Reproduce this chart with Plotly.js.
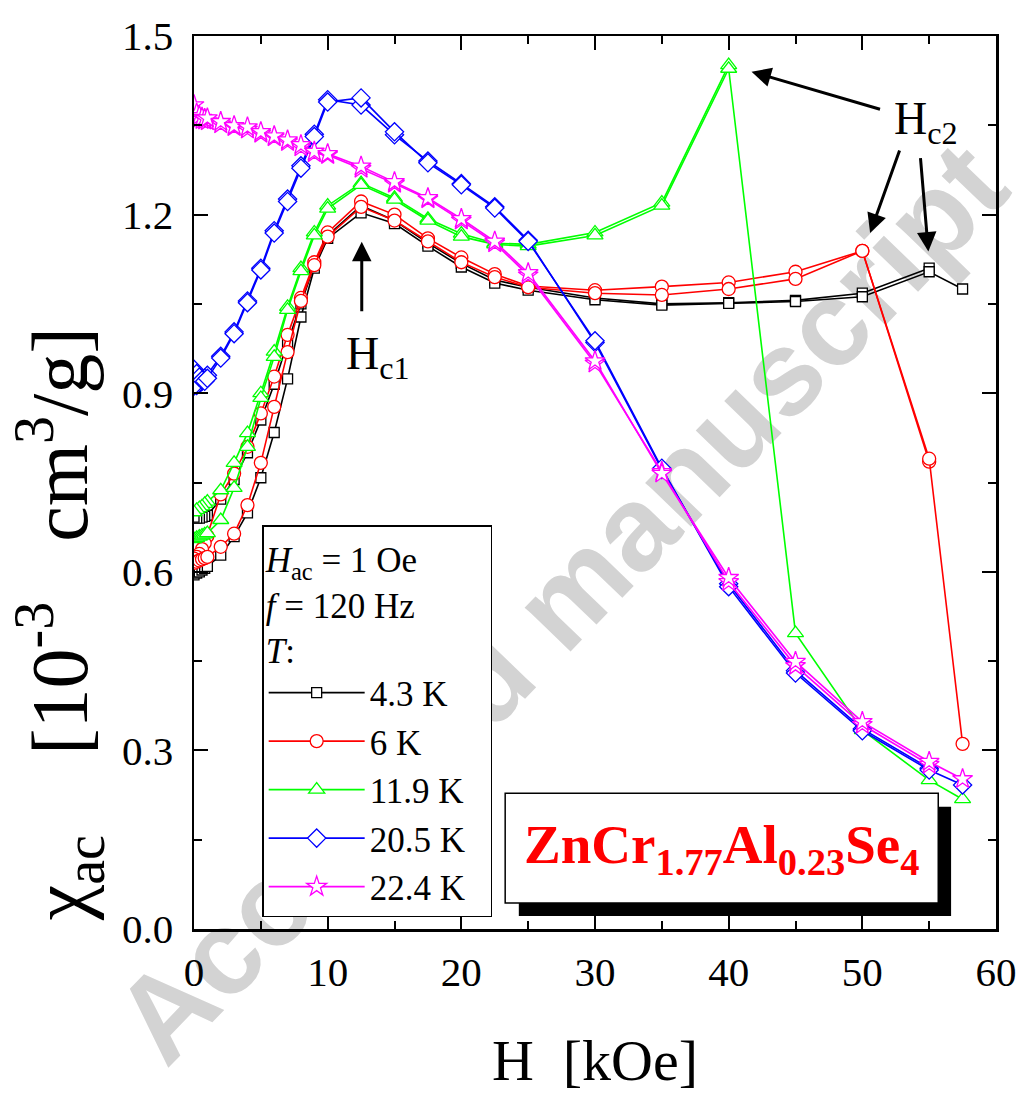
<!DOCTYPE html>
<html>
<head>
<meta charset="utf-8">
<script src="https://cdn.plot.ly/plotly-3.0.1.min.js"></script>
<style>
  html, body { margin:0; padding:0; background:#fff; }
  #wrap { position:relative; width:1025px; height:1093px; overflow:hidden; }
  #wm { position:absolute; left:560px; top:602px; transform:translate(-50%,-50%) rotate(-46deg);
        font-family:"Liberation Sans", Arial, sans-serif; font-weight:bold; font-size:120px;
        color:#d3d3d3; white-space:nowrap; z-index:0; }
  #chart { position:absolute; left:0; top:0; width:1025px; height:1093px; z-index:1; }
</style>
</head>
<body>
<div id="wrap">
  <div id="wm">Accepted manuscript</div>
  <div id="chart"></div>
</div>
<script>
// Field values (kOe)
const H_up   = [0,0.2,0.4,0.6,0.8,1,2,3,4,5,6,7,8,9,10,12.5,15,17.5,20,22.5,25,30,35,40,45,50,55,57.5];
const H_down = [55,50,45,40,35,30,25,22.5,20,17.5,15,12.5,10,9,8,7,6,5,4,3,2,1,0.8,0.6,0.4,0.2,0];
const H_down_green = [40,35,30,25,22.5,20,17.5,15,12.5,10,9,8,7,6,5,4,3,2,1,0.8,0.6,0.4,0.2,0];

// chi_ac (10^-3 cm^3/g)
const chi_43K_up   = [0.595,0.598,0.600,0.603,0.606,0.609,0.628,0.659,0.699,0.758,0.834,0.924,1.028,1.110,1.160,1.203,1.185,1.147,1.112,1.085,1.073,1.057,1.048,1.051,1.054,1.062,1.104,1.075];
const chi_43K_down = [1.110,1.068,1.056,1.052,1.050,1.060,1.078,1.090,1.118,1.152,1.190,1.215,1.165,1.115,1.050,0.985,0.915,0.855,0.800,0.755,0.722,0.695,0.693,0.692,0.690,0.690,0.692];

const chi_6K_up    = [0.615,0.617,0.619,0.621,0.623,0.625,0.642,0.664,0.712,0.783,0.877,0.969,1.055,1.115,1.163,1.213,1.190,1.155,1.120,1.095,1.078,1.068,1.065,1.075,1.092,1.139,0.790,0.311];
const chi_6K_down  = [0.785,1.139,1.104,1.086,1.079,1.073,1.080,1.100,1.128,1.160,1.200,1.222,1.170,1.120,1.060,0.998,0.928,0.866,0.810,0.765,0.730,0.660,0.648,0.638,0.630,0.625,0.622];

const chi_119K_up   = [0.655,0.657,0.659,0.661,0.663,0.665,0.687,0.741,0.810,0.892,0.961,1.040,1.105,1.165,1.210,1.250,1.225,1.190,1.163,1.150,1.147,1.165,1.215,1.445,0.497,0.334,0.250,0.218];
const chi_119K_down = [1.451,1.220,1.170,1.150,1.152,1.168,1.193,1.228,1.253,1.215,1.170,1.110,1.045,0.970,0.900,0.833,0.783,0.737,0.718,0.714,0.710,0.707,0.704,0.700];

const chi_205K_up   = [0.940,0.933,0.927,0.922,0.920,0.925,0.959,1.000,1.052,1.107,1.169,1.222,1.278,1.331,1.389,1.396,1.339,1.287,1.250,1.211,1.155,0.988,0.774,0.575,0.430,0.333,0.267,0.242];
const chi_205K_down = [0.270,0.336,0.434,0.580,0.772,0.985,1.157,1.213,1.252,1.290,1.334,1.384,1.393,1.335,1.282,1.226,1.173,1.110,1.055,1.003,0.962,0.930,0.925,0.920,0.916,0.913,0.912];

const chi_224K_up   = [1.384,1.370,1.366,1.363,1.361,1.362,1.356,1.349,1.347,1.339,1.332,1.325,1.317,1.306,1.302,1.281,1.255,1.228,1.193,1.155,1.102,0.954,0.765,0.590,0.449,0.348,0.281,0.252];
const chi_224K_down = [0.276,0.343,0.442,0.583,0.768,0.950,1.098,1.152,1.190,1.226,1.252,1.277,1.300,1.303,1.313,1.322,1.330,1.336,1.343,1.347,1.352,1.357,1.358,1.359,1.361,1.363,1.366];

const seriesNames = ['4.3 K','6 K','11.9 K','20.5 K','22.4 K'];

const styles = [
  {color:'#000000', symbol:'square',      size:10},
  {color:'#ff0000', symbol:'circle',      size:13},
  {color:'#00ff00', symbol:'triangle-up', size:14},
  {color:'#0000ff', symbol:'diamond',     size:14},
  {color:'#ff00ff', symbol:'star',        size:15}
];
const ups   = [chi_43K_up, chi_6K_up, chi_119K_up, chi_205K_up, chi_224K_up];
const downs = [chi_43K_down, chi_6K_down, chi_119K_down, chi_205K_down, chi_224K_down];
const downH = [H_down, H_down, H_down_green, H_down, H_down];

const traces = [];
for (let i = 0; i < 5; i++) {
  const st = styles[i];
  const mk = {symbol: st.symbol, size: st.size, color:'#ffffff', line:{color: st.color, width:1.3}};
  traces.push({x: downH[i], y: downs[i], mode:'lines+markers', name: seriesNames[i],
    showlegend:false, line:{color: st.color, width:1.6}, marker: mk, hoverinfo:'x+y'});
  traces.push({x: H_up, y: ups[i], mode:'lines+markers', name: seriesNames[i],
    line:{color: st.color, width:1.6}, marker: mk, hoverinfo:'x+y'});
}

const serif = '"Liberation Serif", "Times New Roman", Times, serif';
const arrowBase = {xref:'x', yref:'y', axref:'pixel', ayref:'pixel', text:'', showarrow:true,
  arrowhead:2, arrowsize:1.3, arrowwidth:3, arrowcolor:'#000'};

const layout = {
  width:1025, height:1093,
  margin:{l:194, r:29, t:36, b:164},
  paper_bgcolor:'rgba(0,0,0,0)', plot_bgcolor:'rgba(0,0,0,0)',
  font:{family: serif, color:'#000', size:40},
  showlegend:true,
  xaxis:{range:[0,60], dtick:10, tick0:0, ticks:'inside', ticklen:14, tickwidth:2, tickcolor:'#000',
    minor:{dtick:5, ticks:'inside', ticklen:8, tickwidth:2, tickcolor:'#000'},
    showline:true, linewidth:2.5, linecolor:'#000', mirror:'ticks', showgrid:false, zeroline:false,
    tickfont:{family:serif, size:41}, ticklabelstandoff:5,
    title:{text:'H&nbsp;&nbsp;[kOe]', font:{family:serif, size:58}, standoff:46}},
  yaxis:{range:[0,1.5], dtick:0.3, tick0:0, tickformat:'.1f', ticks:'inside', ticklen:14, tickwidth:2, tickcolor:'#000',
    minor:{dtick:0.15, ticks:'inside', ticklen:8, tickwidth:2, tickcolor:'#000'},
    showline:true, linewidth:2.5, linecolor:'#000', mirror:'ticks', showgrid:false, zeroline:false,
    tickfont:{family:serif, size:41}, ticklabelstandoff:10},
  legend:{x:0.085, y:0.452, xanchor:'left', yanchor:'top', bgcolor:'#ffffff',
    bordercolor:'#000', borderwidth:1.5, font:{family:serif, size:35},
    title:{text:'<i>H</i><sub>ac</sub> = 1 Oe&nbsp;&nbsp;&nbsp;&nbsp;&nbsp;&nbsp;&nbsp;&nbsp;<br><i>f</i> = 120 Hz<br><i>T</i>:', font:{family:serif, size:35}},
    tracegroupgap:0, itemwidth:96, entrywidth:130},
  shapes:[
    {type:'rect', xref:'paper', yref:'paper', x0:0.405, x1:0.944, y0:0.0146, y1:0.137,
     fillcolor:'#000', line:{width:0}, layer:'above'},
    {type:'rect', xref:'paper', yref:'paper', x0:0.388, x1:0.928, y0:0.029, y1:0.152,
     fillcolor:'#fff', line:{color:'#000', width:1.5}, layer:'above'}
  ],
  annotations:[
    {xref:'paper', yref:'paper', x:-0.168, y:0.3415, xanchor:'center', yanchor:'middle', textangle:-90,
     showarrow:false, text:'χ<sub>ac</sub>&nbsp;&nbsp;&nbsp;&nbsp;[10<sup>-3</sup>&nbsp;&nbsp;&nbsp;cm<sup>3</sup>/g]', font:{family:serif, size:80}},
    {xref:'paper', yref:'paper', x:0.658, y:0.09, xanchor:'center', yanchor:'middle', showarrow:false,
     text:'<b>ZnCr<sub>1.77</sub>Al<sub>0.23</sub>Se<sub>4</sub></b>', font:{family:serif, size:55, color:'#ff0000'}},
    {xref:'x', yref:'y', x:13.8, y:0.96, showarrow:false, text:'H<sub>c1</sub>', font:{family:serif, size:46}},
    {xref:'x', yref:'y', x:54.8, y:1.356, showarrow:false, text:'H<sub>c2</sub>', font:{family:serif, size:46}},
    Object.assign({}, arrowBase, {x:12.55, y:1.1545, ax:0, ay:71}),
    Object.assign({}, arrowBase, {x:41.71, y:1.440, ax:130, ay:38}),
    Object.assign({}, arrowBase, {x:50.58, y:1.169, ax:30, ay:-84}),
    Object.assign({}, arrowBase, {x:54.94, y:1.138, ax:-8, ay:-95})
  ]
};

Plotly.newPlot('chart', traces, layout, {displayModeBar:false, staticPlot:true});
</script>
</body>
</html>
